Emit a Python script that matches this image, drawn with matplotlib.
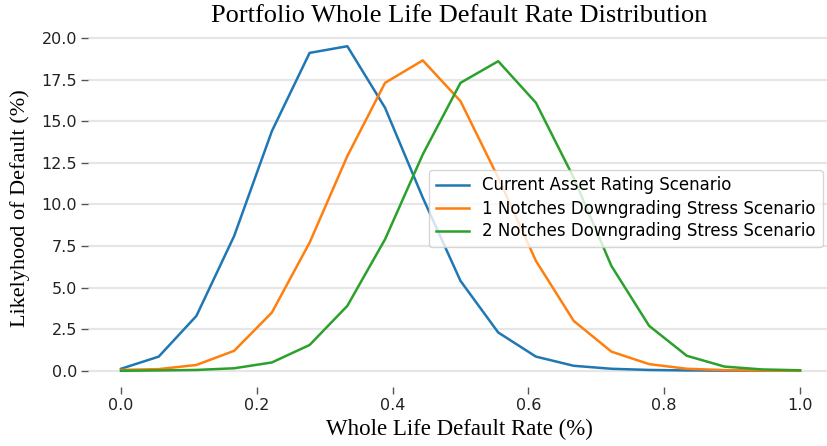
import numpy as np
import matplotlib
matplotlib.use("Agg")
import matplotlib.pyplot as plt

x = np.linspace(0, 1, 19)
current = [0.12, 0.85, 3.3, 8.1, 14.4, 19.1, 19.5, 15.8, 10.4, 5.4, 2.3, 0.85, 0.3, 0.12, 0.05, 0.02, 0.01, 0.0, 0.0]
notch1 = [0.05, 0.1, 0.35, 1.2, 3.5, 7.7, 12.9, 17.3, 18.65, 16.2, 11.6, 6.6, 3.0, 1.15, 0.4, 0.12, 0.04, 0.01, 0.0]
notch2 = [0.0, 0.02, 0.05, 0.15, 0.5, 1.55, 3.9, 7.9, 13.0, 17.3, 18.6, 16.1, 11.6, 6.3, 2.7, 0.9, 0.25, 0.08, 0.03]
labels = ["Current Asset Rating Scenario",
          "1 Notches Downgrading Stress Scenario",
          "2 Notches Downgrading Stress Scenario"]

fig = plt.figure(figsize=(8.27, 4.46), dpi=100)
ax = fig.add_axes([88/827, 59/446, (831-88)/827, 357/446])
for y, lab in zip([current, notch1, notch2], labels):
    ax.plot(x, y, label=lab, linewidth=1.8)

ax.set_ylim(-0.975, 20.475)
ax.set_xlim(-33/679, 1.0 + 31/679)
ax.set_yticks(np.arange(0, 20.1, 2.5))
ax.set_xticks(np.arange(0, 1.01, 0.2))
ax.yaxis.grid(True, color="#e6e6e6", linewidth=1.6)
ax.set_axisbelow(True)
for s in ax.spines.values():
    s.set_visible(False)
ax.tick_params(axis="both", colors="#555555", labelcolor="#222222", length=5, width=1, labelsize=11.5)
ax.tick_params(axis="x", pad=3)
ax.tick_params(axis="y", pad=3)

ax.set_title("Portfolio Whole Life Default Rate Distribution", family="Liberation Serif", fontsize=19, pad=6)
ax.set_xlabel("Whole Life Default Rate (%)", family="Liberation Serif", fontsize=16.5, labelpad=4)
ax.set_ylabel("Likelyhood of Default (%)", family="Liberation Serif", fontsize=16, labelpad=8)
ax.legend(loc="center right", fontsize=12, labelspacing=0.3)

fig.savefig("out.png", dpi=100)
